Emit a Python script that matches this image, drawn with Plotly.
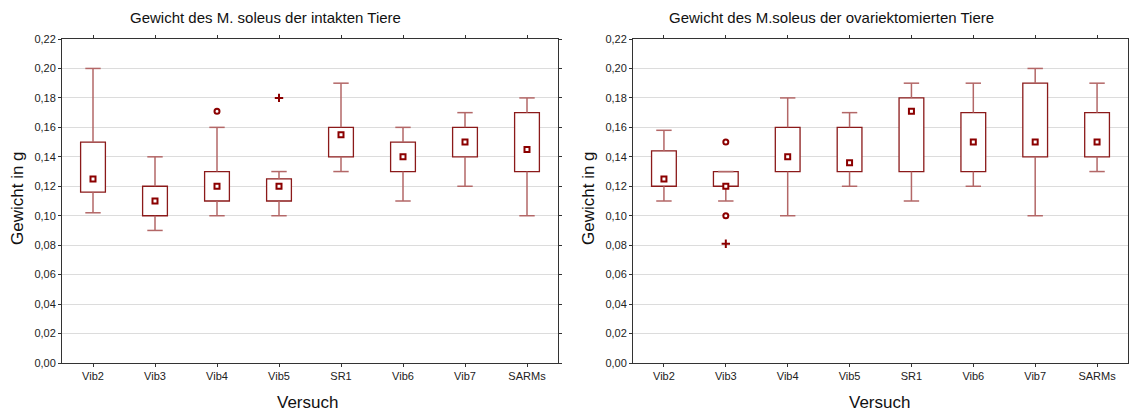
import plotly.graph_objects as go
from plotly.subplots import make_subplots

categories = ["Vib2", "Vib3", "Vib4", "Vib5", "SR1", "Vib6", "Vib7", "SARMs"]
y_ticks = [0.00, 0.02, 0.04, 0.06, 0.08, 0.10, 0.12, 0.14, 0.16, 0.18, 0.20, 0.22]

# Intakte Tiere: non-outlier range, quartiles, median
intakt_min = [0.102, 0.090, 0.100, 0.100, 0.130, 0.110, 0.120, 0.100]
intakt_q1 = [0.116, 0.100, 0.110, 0.110, 0.140, 0.130, 0.140, 0.130]
intakt_median = [0.125, 0.110, 0.120, 0.120, 0.155, 0.140, 0.150, 0.145]
intakt_q3 = [0.150, 0.120, 0.130, 0.125, 0.160, 0.150, 0.160, 0.170]
intakt_max = [0.200, 0.140, 0.160, 0.130, 0.190, 0.160, 0.170, 0.180]
intakt_outlier_cat = ["Vib4"]
intakt_outlier_val = [0.171]
intakt_extreme_cat = ["Vib5"]
intakt_extreme_val = [0.180]

# Ovariektomierte Tiere
ovx_min = [0.110, 0.110, 0.100, 0.120, 0.110, 0.120, 0.100, 0.130]
ovx_q1 = [0.120, 0.120, 0.130, 0.130, 0.130, 0.130, 0.140, 0.140]
ovx_median = [0.125, 0.120, 0.140, 0.136, 0.171, 0.150, 0.150, 0.150]
ovx_q3 = [0.144, 0.130, 0.160, 0.160, 0.180, 0.170, 0.190, 0.170]
ovx_max = [0.158, 0.130, 0.180, 0.170, 0.190, 0.190, 0.200, 0.190]
ovx_outlier_cat = ["Vib3", "Vib3"]
ovx_outlier_val = [0.150, 0.100]
ovx_extreme_cat = ["Vib3"]
ovx_extreme_val = [0.081]

BOX_COLOR = "#8b1a1a"
WHISKER_COLOR = "#b36767"
MARK_COLOR = "#8b0000"
FONT = "Liberation Sans, Arial, sans-serif"

fig = make_subplots(rows=1, cols=2)


def add_panel(col, lo, q1, med, q3, hi, out_c, out_v, ext_c, ext_v):
    # whisker stems (box edge to non-outlier limit)
    wx, wy = [], []
    for c, a, b, d, e in zip(categories, lo, q1, q3, hi):
        wx += [c, c, None, c, c, None]
        wy += [a, b, None, d, e, None]
    fig.add_trace(go.Scatter(x=wx, y=wy, mode="lines",
                             line=dict(color=WHISKER_COLOR, width=1.5),
                             hoverinfo="skip", showlegend=False), row=1, col=col)
    # whisker caps
    fig.add_trace(go.Scatter(x=categories + categories, y=lo + hi, mode="markers",
                             marker=dict(symbol="line-ew", size=11,
                                         line=dict(color=WHISKER_COLOR, width=1.5)),
                             hoverinfo="skip", showlegend=False), row=1, col=col)
    # 25%-75% boxes
    fig.add_trace(go.Bar(x=categories, y=[b - a for a, b in zip(q1, q3)], base=q1,
                         width=0.4, marker=dict(color="white",
                                                line=dict(color=BOX_COLOR, width=1.3)),
                         showlegend=False), row=1, col=col)
    # median
    fig.add_trace(go.Scatter(x=categories, y=med, mode="markers",
                             marker=dict(symbol="square", size=5, color="white",
                                         line=dict(color=MARK_COLOR, width=2)),
                             showlegend=False), row=1, col=col)
    # outliers
    fig.add_trace(go.Scatter(x=out_c, y=out_v, mode="markers",
                             marker=dict(symbol="circle", size=5, color="white",
                                         line=dict(color=MARK_COLOR, width=2)),
                             showlegend=False), row=1, col=col)
    # extremes
    fig.add_trace(go.Scatter(x=ext_c, y=ext_v, mode="markers",
                             marker=dict(symbol="cross-thin", size=6,
                                         line=dict(color=MARK_COLOR, width=2)),
                             showlegend=False), row=1, col=col)


add_panel(1, intakt_min, intakt_q1, intakt_median, intakt_q3, intakt_max,
          intakt_outlier_cat, intakt_outlier_val, intakt_extreme_cat, intakt_extreme_val)
add_panel(2, ovx_min, ovx_q1, ovx_median, ovx_q3, ovx_max,
          ovx_outlier_cat, ovx_outlier_val, ovx_extreme_cat, ovx_extreme_val)

W, H = 1129, 412
axis_common = dict(showline=True, linecolor="#333333", linewidth=1, mirror="ticks",
                   ticks="outside", ticklen=3, tickcolor="#333333", automargin=False,
                   tickfont=dict(family=FONT, size=11, color="#222222"))

fig.update_xaxes(**axis_common, type="category", categoryorder="array",
                 categoryarray=categories, range=[-0.5, 7.5], showgrid=False)
fig.update_yaxes(**axis_common, range=[0, 0.22], tickvals=y_ticks,
                 tickformat=".2f", showgrid=True, gridcolor="#dcdcdc", gridwidth=1,
                 zeroline=False)

fig.update_layout(
    xaxis=dict(domain=[62 / W, 558 / W]),
    xaxis2=dict(domain=[633 / W, 1128 / W]),
    yaxis=dict(domain=[1 - 363 / H, 1 - 39 / H]),
    yaxis2=dict(domain=[1 - 363 / H, 1 - 39 / H]),
    width=W, height=H,
    margin=dict(l=0, r=0, t=0, b=0, autoexpand=False),
    paper_bgcolor="white", plot_bgcolor="white",
    separators=",.",
    barmode="overlay",
    font=dict(family=FONT, color="#111111"),
    showlegend=False,
)

annotations = [
    dict(text="Gewicht des M. soleus der intakten Tiere", x=265 / W, y=1 - 18 / H,
         font=dict(size=15)),
    dict(text="Gewicht des M.soleus der ovariektomierten Tiere", x=831 / W, y=1 - 18 / H,
         font=dict(size=15)),
    dict(text="Gewicht in g", x=17 / W, y=1 - 198 / H, textangle=-90, font=dict(size=17)),
    dict(text="Gewicht in g", x=588 / W, y=1 - 198 / H, textangle=-90, font=dict(size=17)),
    dict(text="Versuch", x=307 / W, y=1 - 402 / H, font=dict(size=17)),
    dict(text="Versuch", x=879 / W, y=1 - 402 / H, font=dict(size=17)),
]
for a in annotations:
    a.update(xref="paper", yref="paper", xanchor="center", yanchor="middle",
             showarrow=False)
    a["font"]["family"] = FONT
    a["font"]["color"] = "#111111"
fig.update_layout(annotations=annotations)

fig.write_html("out.html")
